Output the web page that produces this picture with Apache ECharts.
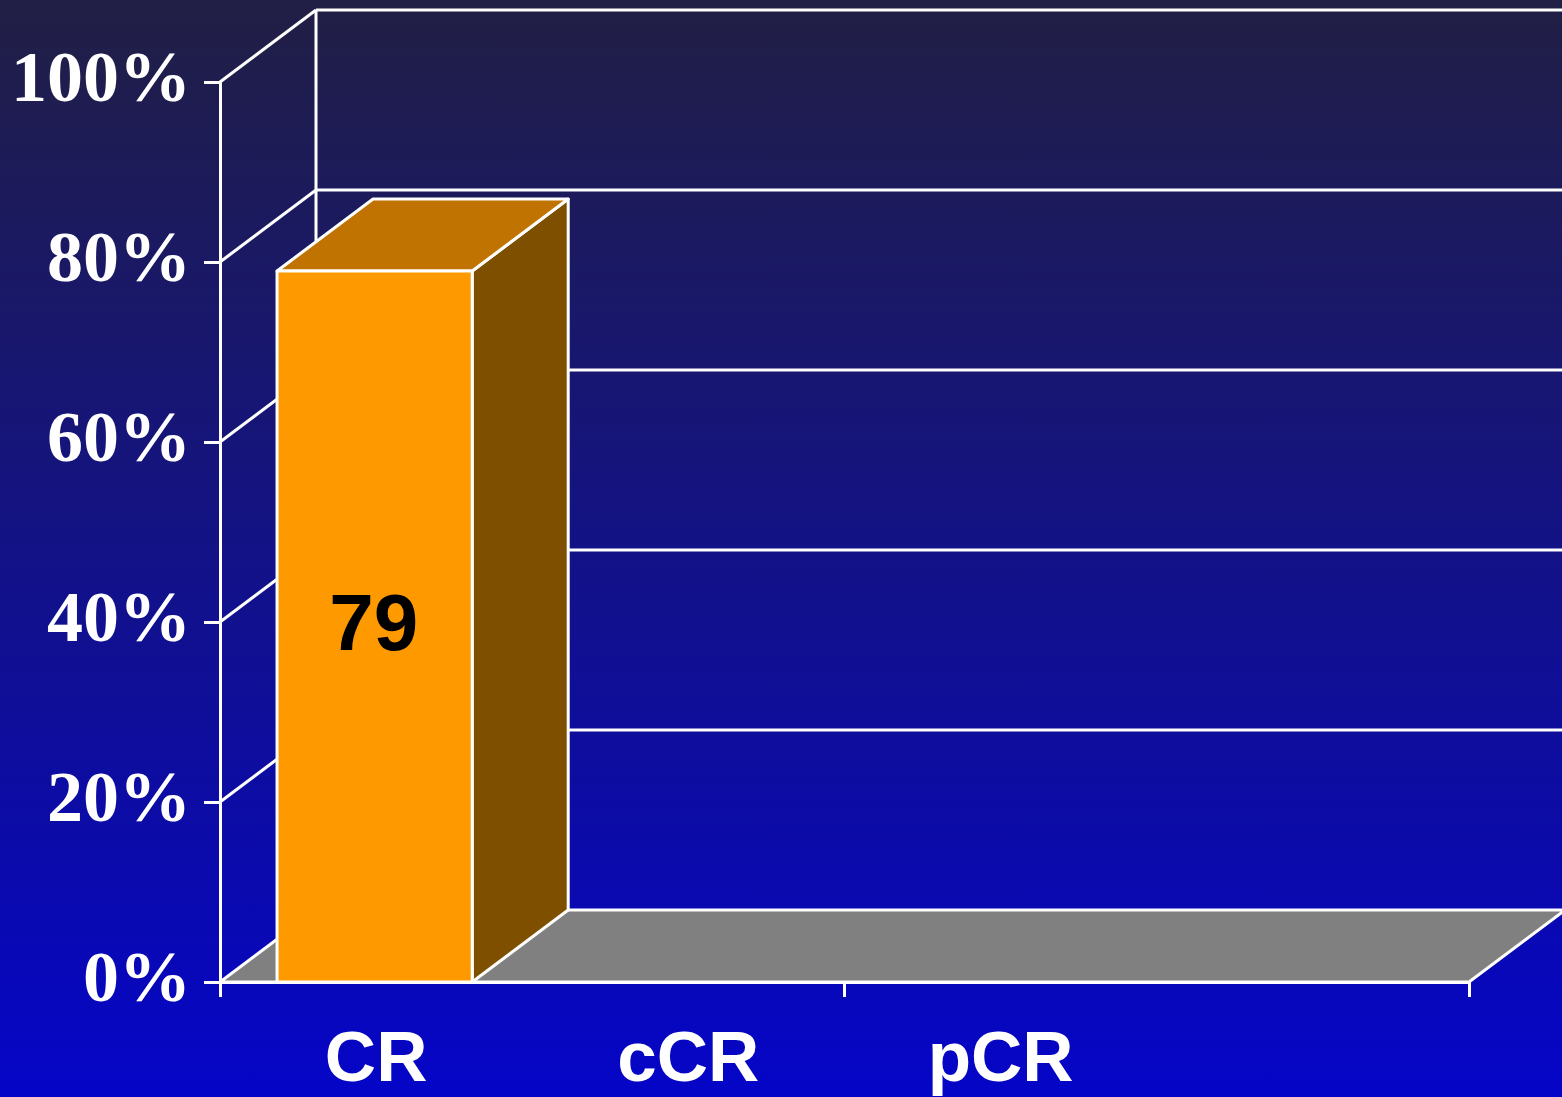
<!DOCTYPE html>
<html>
<head>
<meta charset="utf-8">
<script src="https://cdn.jsdelivr.net/npm/echarts@6/dist/echarts.min.js"></script>
<style>
  html, body { margin: 0; padding: 0; }
  #chart { width: 1562px; height: 1097px; background: linear-gradient(to bottom, #211F44 0%, #0505C8 100%); }
</style>
</head>
<body>
<div id="chart"></div>
<script>
// ---- data ----
const categories = ['CR', 'cCR', 'pCR', ''];
const barValues = [79, null, null, null];
const yTicks = [0, 20, 40, 60, 80, 100];
const yMin = 0, yMax = 100, yStep = 20;

// ---- style constants ----
const DX = 96, DY = -72;            // 3D depth offset in px
const WHITE = '#FFFFFF';
const FRONT = '#FF9900', TOP = '#C07300', SIDE = '#7F4F00', FLOOR = '#808080';
const LW = 3;

const chart = echarts.init(document.getElementById('chart'), null, { renderer: 'canvas' });

function wallsRender(params, api) {
  const v = api.value(0);
  const cs = params.coordSys;
  const x0 = cs.x, x1 = cs.x + cs.width;
  const p = api.coord([0, v]);
  const y = p[1];
  const children = [];
  const ls = { stroke: WHITE, lineWidth: LW };
  if (v === yMin) {
    children.push({
      type: 'polygon',
      shape: { points: [[x0, y], [x1, y], [x1 + DX, y + DY], [x0 + DX, y + DY]] },
      style: { fill: FLOOR, stroke: WHITE, lineWidth: LW }
    });
    const yTop = api.coord([0, yMax])[1];
    children.push({
      type: 'line',
      shape: { x1: x0 + DX, y1: yTop + DY, x2: x0 + DX, y2: y + DY },
      style: ls
    });
  } else {
    children.push({
      type: 'line',
      shape: { x1: x0, y1: y, x2: x0 + DX, y2: y + DY },
      style: ls
    });
    children.push({
      type: 'line',
      shape: { x1: x0 + DX, y1: y + DY, x2: x1 + DX + 10, y2: y + DY },
      style: ls
    });
  }
  return { type: 'group', children };
}

function barRender(params, api) {
  const idx = api.value(0);
  const val = api.value(1);
  if (val == null || isNaN(val)) return null;
  const top = api.coord([idx, val]);
  const base = api.coord([idx, 0]);
  const w = api.size([1, 0])[0] * 0.625;
  const xl = top[0] - w / 2 - 1.5, xr = xl + w;
  const yt = top[1], yb = base[1];
  const st = (fill) => ({ fill, stroke: WHITE, lineWidth: LW, lineJoin: 'round' });
  return {
    type: 'group',
    children: [
      { type: 'polygon', shape: { points: [[xr, yt], [xr + DX, yt + DY], [xr + DX, yb + DY], [xr, yb]] }, style: st(SIDE) },
      { type: 'polygon', shape: { points: [[xl, yt], [xl + DX, yt + DY], [xr + DX, yt + DY], [xr, yt]] }, style: st(TOP) },
      { type: 'rect', shape: { x: xl, y: yt, width: w, height: yb - yt }, style: st(FRONT) },
      {
        type: 'text',
        x: (xl + xr) / 2 - 1, y: (yt + yb) / 2 + 1,
        style: {
          text: String(val),
          fill: '#000000',
          font: 'bold 80px "Liberation Sans", Arial, sans-serif',
          align: 'center', verticalAlign: 'middle'
        }
      }
    ]
  };
}

const option = {
  animation: false,
  backgroundColor: 'transparent',
  grid: { left: 220, right: 93, top: 82, bottom: 115 },
  xAxis: {
    type: 'category',
    data: categories,
    boundaryGap: true,
    axisLine: { show: true, lineStyle: { color: WHITE, width: LW } },
    axisTick: { show: true, interval: function (index) { return index % 2 === 0; }, length: 15, lineStyle: { color: WHITE, width: LW } },
    axisLabel: {
      interval: 0, margin: 44, color: WHITE,
      fontFamily: '"Liberation Sans", Arial, sans-serif', fontWeight: 'bold', fontSize: 71
    },
    splitLine: { show: false }
  },
  yAxis: {
    type: 'value',
    min: yMin, max: yMax, interval: yStep,
    axisLine: { show: true, lineStyle: { color: WHITE, width: LW } },
    axisTick: { show: true, length: 16, lineStyle: { color: WHITE, width: LW } },
    axisLabel: {
      margin: 29, color: WHITE, formatter: '{value}%', padding: [5, 0, 0, 0],
      fontFamily: '"Liberation Serif", "Times New Roman", serif', fontWeight: 'bold', fontSize: 72
    },
    splitLine: { show: false }
  },
  series: [
    {
      type: 'custom',
      name: 'walls',
      z: 1,
      silent: true,
      renderItem: wallsRender,
      data: yTicks.map(v => [v]),
      encode: { y: 0 }
    },
    {
      type: 'custom',
      name: 'bars',
      z: 3,
      renderItem: barRender,
      data: barValues.map((v, i) => [i, v]),
      encode: { x: 0, y: 1 }
    }
  ]
};
chart.setOption(option);
</script>
</body>
</html>
